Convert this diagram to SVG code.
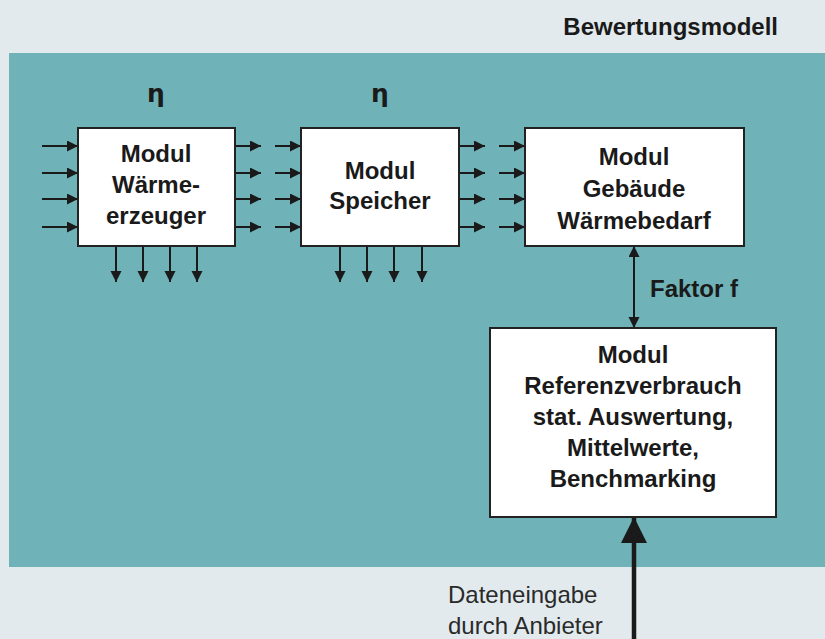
<svg xmlns="http://www.w3.org/2000/svg" width="825" height="639" viewBox="0 0 825 639">
<defs>
<marker id="ah" markerUnits="userSpaceOnUse" markerWidth="13" markerHeight="13" refX="11" refY="5.5" orient="auto"><path d="M0,0 L11,5.5 L0,11 Z" fill="#1a1a1a"/></marker>
<marker id="ahs" markerUnits="userSpaceOnUse" markerWidth="13" markerHeight="13" refX="11" refY="5.5" orient="auto-start-reverse"><path d="M0,0 L11,5.5 L0,11 Z" fill="#1a1a1a"/></marker>
<marker id="big" markerUnits="userSpaceOnUse" markerWidth="28" markerHeight="28" refX="26" refY="13" orient="auto"><path d="M0,0 L26,13 L0,26 Z" fill="#1a1a1a"/></marker>
</defs>
<style>
.box{fill:#fff;stroke:#222;stroke-width:2}
.t{font-family:"Liberation Sans",Arial,sans-serif;font-weight:bold;font-size:24px;fill:#1a1a1a;text-anchor:middle}
.eta{font-family:"DejaVu Sans",sans-serif;font-weight:bold;font-size:25px;fill:#1a1a1a;text-anchor:middle}
.r{font-family:"Liberation Sans",Arial,sans-serif;font-size:24px;fill:#2a2a2a}
.a{stroke:#1a1a1a;stroke-width:2;fill:none;marker-end:url(#ah)}
</style>
<rect x="0" y="0" width="825" height="639" fill="#e2eaed"/>
<rect x="9" y="53" width="816" height="514" fill="#6fb2b8"/>
<text class="t" x="778" y="35" style="text-anchor:end">Bewertungsmodell</text>
<text class="eta" x="156" y="102">η</text>
<text class="eta" x="380" y="102">η</text>
<g id="connectors">
<line class="a" x1="42" y1="146" x2="78" y2="146"/><line class="a" x1="42" y1="173" x2="78" y2="173"/><line class="a" x1="42" y1="199" x2="78" y2="199"/><line class="a" x1="42" y1="227" x2="78" y2="227"/>
<line class="a" x1="235" y1="146" x2="261" y2="146"/><line class="a" x1="235" y1="173" x2="261" y2="173"/><line class="a" x1="235" y1="199" x2="261" y2="199"/><line class="a" x1="235" y1="227" x2="261" y2="227"/>
<line class="a" x1="275" y1="146" x2="301" y2="146"/><line class="a" x1="275" y1="173" x2="301" y2="173"/><line class="a" x1="275" y1="199" x2="301" y2="199"/><line class="a" x1="275" y1="227" x2="301" y2="227"/>
<line class="a" x1="459" y1="146" x2="485" y2="146"/><line class="a" x1="459" y1="173" x2="485" y2="173"/><line class="a" x1="459" y1="199" x2="485" y2="199"/><line class="a" x1="459" y1="227" x2="485" y2="227"/>
<line class="a" x1="499" y1="146" x2="525" y2="146"/><line class="a" x1="499" y1="173" x2="525" y2="173"/><line class="a" x1="499" y1="199" x2="525" y2="199"/><line class="a" x1="499" y1="227" x2="525" y2="227"/>
<line class="a" x1="116" y1="246" x2="116" y2="282"/><line class="a" x1="143" y1="246" x2="143" y2="282"/><line class="a" x1="170" y1="246" x2="170" y2="282"/><line class="a" x1="197" y1="246" x2="197" y2="282"/>
<line class="a" x1="340" y1="246" x2="340" y2="282"/><line class="a" x1="367" y1="246" x2="367" y2="282"/><line class="a" x1="394" y1="246" x2="394" y2="282"/><line class="a" x1="422" y1="246" x2="422" y2="282"/>
<line x1="634" y1="246" x2="634" y2="328" stroke="#1a1a1a" stroke-width="2" marker-start="url(#ahs)" marker-end="url(#ahs)"/>
<line x1="634" y1="639" x2="634" y2="517" stroke="#1a1a1a" stroke-width="4.5" marker-end="url(#big)"/>
</g>
<text class="t" x="650" y="297" style="text-anchor:start">Faktor f</text>
<g id="waermeerzeuger">
<rect class="box" x="78" y="128" width="157" height="118"/>
<text class="t" x="156" y="162">Modul</text>
<text class="t" x="156" y="193">Wärme-</text>
<text class="t" x="156" y="224">erzeuger</text>
</g>
<g id="speicher">
<rect class="box" x="301" y="128" width="158" height="118"/>
<text class="t" x="380" y="179">Modul</text>
<text class="t" x="380" y="209">Speicher</text>
</g>
<g id="gebaeude">
<rect class="box" x="525" y="128" width="219" height="118"/>
<text class="t" x="634" y="165">Modul</text>
<text class="t" x="634" y="197">Gebäude</text>
<text class="t" x="634" y="229">Wärmebedarf</text>
</g>
<g id="referenz">
<rect class="box" x="490" y="328" width="286" height="189"/>
<text class="t" x="633" y="363">Modul</text>
<text class="t" x="633" y="394">Referenzverbrauch</text>
<text class="t" x="633" y="425">stat. Auswertung,</text>
<text class="t" x="633" y="456">Mittelwerte,</text>
<text class="t" x="633" y="487">Benchmarking</text>
</g>
<text class="r" x="448" y="603">Dateneingabe</text>
<text class="r" x="448" y="634">durch Anbieter</text>
</svg>
